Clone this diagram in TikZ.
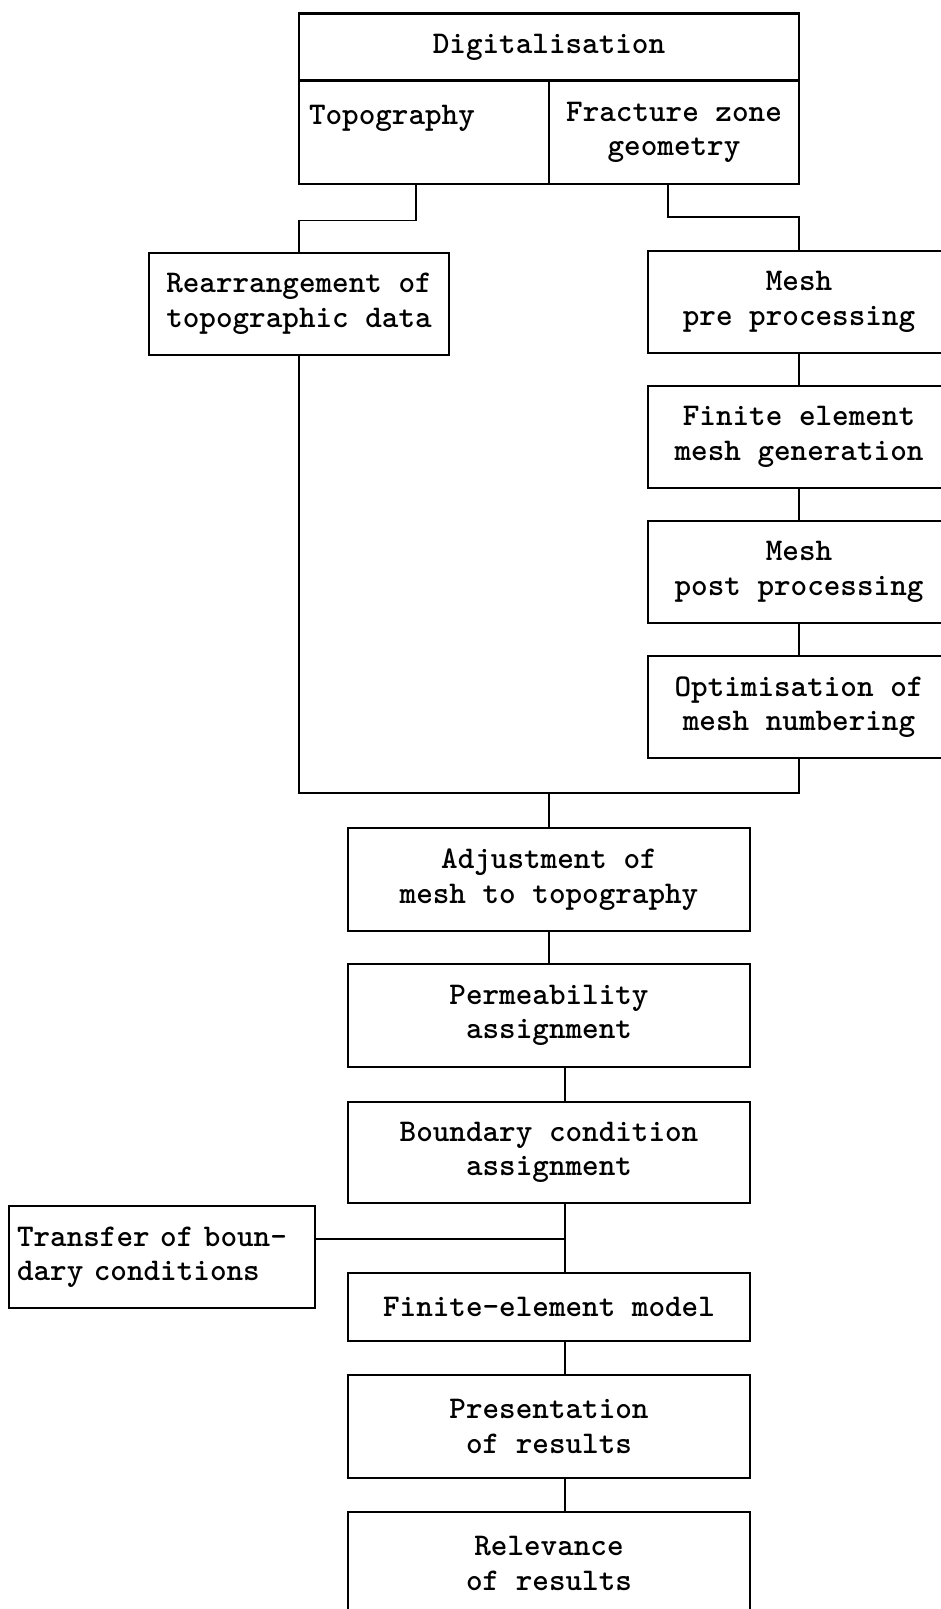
\documentclass[tikz,border=0pt]{standalone}
\usepackage{fontspec}
\usepackage{tikz}
\tikzset{%
    every stage/.style={
            rectangle,
            draw,
            line width=2.8pt,
            inner sep=0pt,
            align=center,
            font=\ttfamily\bfseries\fontsize{31.6}{34.5}\selectfont
        },
    stage wide/.style={
            minimum width=402pt,
            minimum height=103pt
        },
    stage side/.style={
            minimum width=302pt,
            minimum height=102pt
        },
    link/.style={
            line width=1.8pt
        },
}
\begin{document}
\begin{tikzpicture}[x=1pt, y=-1pt]

        \useasboundingbox (0,0) rectangle (941,1609);
        \clip (0,0) rectangle (941,1609);

        % digitalisation block
        \node [every stage, minimum width=500pt, minimum height=67.5pt] (dig) at (549,47) {Digitalisation};
        \node [every stage, minimum width=250pt, minimum height=103pt, align=left, text width=230pt] (topo) at (424,132.5) {Topography\\\mbox{}};
        \node [every stage, minimum width=250pt, minimum height=103pt] (frac) at (674,132.5) {Fracture zone\\geometry};

        \node [every stage, minimum width=300pt, minimum height=102pt] (rearr) at (299,304) {Rearrangement of\\topographic data};

        \foreach \m/\l [count=\i] in {meshpre/{Mesh\\pre processing}, femesh/{Finite element\\mesh generation}, meshpost/{Mesh\\post processing}, optim/{Optimisation of\\mesh numbering}}
        \node [every stage, stage side] (\m) at (799,167+\i*135) {\l};

        % main column
        \node [every stage, stage wide] (adjust) at (549,879.5) {Adjustment of\\mesh to topography};
        \node [every stage, stage wide] (perm) at (549,1015.5) {Permeability\\assignment};
        \node [every stage, stage wide, minimum height=101pt] (bound) at (549,1152.5) {Boundary condition\\assignment};
        \node [every stage, stage wide, minimum height=68pt] (femodel) at (549,1307) {Finite-element model};
        \node [every stage, stage wide] (present) at (549,1426.5) {Presentation\\of results};
        \node [every stage, stage wide] (relev) at (549,1563.5) {Relevance\\of results};

        \node [every stage, minimum width=306pt, minimum height=102pt, align=left, text width=290pt] (transfer) at (162,1257) {Transfer of boun-\\dary conditions};

        % connectors
        \draw [link] ([xshift=-8pt]topo.south) -- ++(0,35) -| (rearr.north);
        \draw [link] ([xshift=-6pt]frac.south) -- ++(0,31.5) -| (meshpre.north);

        \foreach \a/\b in {meshpre/femesh, femesh/meshpost, meshpost/optim}
        \draw [link] (\a) -- (\b);

        \coordinate (join) at (549,793);
        \draw [link] (rearr.south) |- (join) -| (optim.south);
        \draw [link] (join) -- (adjust.north);
        \draw [link] (adjust) -- (perm);

        \foreach \a/\b in {perm/bound, femodel/present, present/relev}
        \draw [link] ([xshift=16pt]\a.south) -- ([xshift=16pt]\b.north);

        \coordinate (tap) at (565,1239);
        \draw [link] ([xshift=16pt]bound.south) -- (tap) -- ([xshift=16pt]femodel.north);
        \draw [link] (transfer.east |- tap) -- (tap);

\end{tikzpicture}
\end{document}
